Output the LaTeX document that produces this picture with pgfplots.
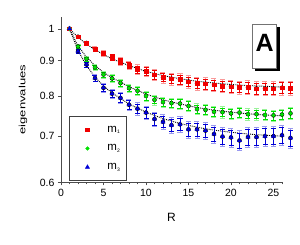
\documentclass[border=0pt]{standalone}
\usepackage{pgfplots}
\usepackage{pgfplotstable}
\pgfplotsset{compat=1.18}
\usepackage{fontspec}
\setmainfont{Liberation Sans}
\definecolor{cRed}{RGB}{240,0,0}
\definecolor{cGreen}{RGB}{0,225,0}
\definecolor{cBlue}{RGB}{0,0,215}

\pgfplotstableread{
R v e e2
1 1.000 0.000 0.000
2 0.974 0.004 0.005
3 0.954 0.005 0.007
4 0.935 0.006 0.008
5 0.922 0.007 0.009
6 0.910 0.008 0.010
7 0.898 0.009 0.011
8 0.886 0.010 0.013
9 0.874 0.010 0.014
10 0.868 0.011 0.015
11 0.858 0.012 0.016
12 0.851 0.012 0.016
13 0.847 0.013 0.017
14 0.845 0.013 0.017
15 0.839 0.013 0.017
16 0.834 0.014 0.018
17 0.833 0.014 0.018
18 0.830 0.014 0.018
19 0.827 0.014 0.018
20 0.825 0.014 0.018
21 0.823 0.014 0.018
22 0.823 0.015 0.019
23 0.820 0.015 0.019
24 0.820 0.015 0.019
25 0.820 0.015 0.019
26 0.822 0.015 0.019
27 0.821 0.015 0.019
}\redtab

\pgfplotstableread{
R v e e2
1 1.000 0.000 0.000
2 0.943 0.005 0.006
3 0.905 0.006 0.008
4 0.880 0.007 0.009
5 0.859 0.008 0.010
6 0.848 0.008 0.011
7 0.835 0.009 0.012
8 0.821 0.009 0.012
9 0.814 0.010 0.013
10 0.800 0.010 0.013
11 0.790 0.010 0.013
12 0.784 0.010 0.013
13 0.781 0.011 0.014
14 0.780 0.011 0.014
15 0.774 0.011 0.014
16 0.766 0.011 0.014
17 0.764 0.011 0.014
18 0.759 0.011 0.014
19 0.758 0.011 0.014
20 0.755 0.011 0.014
21 0.757 0.011 0.014
22 0.753 0.011 0.014
23 0.753 0.011 0.014
24 0.751 0.011 0.014
25 0.750 0.011 0.014
26 0.752 0.011 0.014
27 0.755 0.012 0.015
}\greentab

\pgfplotstableread{
R v e e2
1 1.000 0.000 0.000
2 0.928 0.005 0.007
3 0.888 0.007 0.009
4 0.849 0.008 0.010
5 0.822 0.009 0.012
6 0.806 0.010 0.013
7 0.795 0.011 0.014
8 0.777 0.012 0.015
9 0.767 0.012 0.016
10 0.757 0.013 0.017
11 0.741 0.014 0.018
12 0.734 0.014 0.018
13 0.726 0.015 0.019
14 0.728 0.015 0.019
15 0.716 0.016 0.020
16 0.716 0.016 0.020
17 0.713 0.016 0.021
18 0.705 0.017 0.022
19 0.699 0.017 0.022
20 0.697 0.017 0.022
21 0.690 0.018 0.023
22 0.698 0.018 0.023
23 0.698 0.018 0.023
24 0.700 0.018 0.023
25 0.700 0.018 0.023
26 0.702 0.018 0.023
27 0.696 0.018 0.023
}\bluetab

\begin{document}
\begin{tikzpicture}[x=1pt,y=1pt]
\path[use as bounding box] (0,0) rectangle (300,245);
\begin{axis}[
  at={(61pt,62.5pt)}, anchor=south west,
  scale only axis, width=221pt, height=165.5pt,
  xmin=0, xmax=26, ymin=0.6, ymax=1.04, ymode=log,
  axis lines=left, axis line style={-, black!70, line width=0.6pt},
  clip=false,
  xtick={0,5,...,25}, minor xtick={0,...,26},
  ytick={0.6,0.7,0.8,0.9,1}, yticklabels={0.6,0.7,0.8,0.9,1},
  minor ytick={},
  tick align=outside, major tick length=3pt, minor tick length=2pt,
  tick style={black!70, line width=0.5pt},
  ticklabel style={font=\fontsize{10.5}{12}\selectfont},
  /pgf/number format/assume math mode=true,
  xlabel={R}, ylabel={eigenvalues},
  xlabel style={at={(axis description cs:0.5,-0.2115)}, anchor=center, font=\fontsize{12}{12}\selectfont},
  ylabel style={at={(axis description cs:-0.172,0.5)}, anchor=center, font=\fontsize{9}{10}\selectfont, xscale=1.45},
  legend style={at={(rel axis cs:0.036,0.009)}, anchor=south west,
    draw=black!75, line width=1pt, inner xsep=4pt, inner ysep=7.5pt,
    row sep=7pt, font=\fontsize{11.5}{12}\selectfont},
  legend cell align=left,
  legend image code/.code={%
    \path[draw=none, fill=none] (0pt,-3pt) rectangle (32pt,3pt);
    \draw[#1, only marks, line width=0.4pt] plot coordinates {(14pt,0pt)};},
]
% fit curves
\addplot[forget plot, black, densely dotted, line width=0.9pt] coordinates {
(1,1) (2,0.972) (3,0.950) (4,0.933) (5,0.918) (6,0.905) (8,0.885) (10,0.868)
(12,0.856) (14,0.847) (16,0.840) (18,0.835) (20,0.831) (22,0.828) (24,0.826) (26,0.824)};
\addplot[forget plot, black, densely dotted, line width=0.9pt] coordinates {
(1,1) (2,0.945) (3,0.910) (4,0.885) (5,0.865) (6,0.850) (8,0.825) (10,0.805)
(12,0.790) (14,0.779) (16,0.770) (18,0.763) (20,0.758) (22,0.754) (24,0.751) (26,0.749)};
\addplot[forget plot, black, densely dotted, line width=0.9pt] coordinates {
(1,1) (2,0.930) (3,0.885) (4,0.852) (5,0.827) (6,0.808) (8,0.779) (10,0.758)
(12,0.742) (14,0.730) (16,0.721) (18,0.714) (20,0.709) (22,0.705) (24,0.702) (26,0.700)};
% light error bars
\addplot[forget plot, only marks, mark=none, error bars/.cd, y dir=both, y explicit,
  error bar style={cRed!40, line width=0.55pt}, error mark options={rotate=90, cRed!40, mark size=2.5pt}]
  table[x=R, y=v, y error=e2] {\redtab};
\addplot[forget plot, only marks, mark=none, error bars/.cd, y dir=both, y explicit,
  error bar style={cGreen!40, line width=0.55pt}, error mark options={rotate=90, cGreen!40, mark size=2.5pt}]
  table[x=R, y=v, y error=e2] {\greentab};
\addplot[forget plot, only marks, mark=none, error bars/.cd, y dir=both, y explicit,
  error bar style={cBlue!40, line width=0.55pt}, error mark options={rotate=90, cBlue!40, mark size=2.5pt}]
  table[x=R, y=v, y error=e2] {\bluetab};
% data
\addplot[only marks, mark=square*, mark size=1.8pt, cRed, error bars/.cd, y dir=both, y explicit,
  error bar style={cRed, line width=0.55pt}, error mark options={rotate=90, cRed, mark size=2.5pt}]
  table[x=R, y=v, y error=e] {\redtab};
\addlegendentry{m\textsubscript{\fontsize{5}{5}\selectfont 1}}
\addplot[only marks, mark=*, mark size=1.8pt, cGreen, error bars/.cd, y dir=both, y explicit,
  error bar style={cGreen, line width=0.55pt}, error mark options={rotate=90, cGreen, mark size=2.5pt}]
  table[x=R, y=v, y error=e] {\greentab};
\addlegendentry{m\textsubscript{\fontsize{5}{5}\selectfont 2}}
\addplot[only marks, mark=triangle*, mark size=2.4pt, cBlue, error bars/.cd, y dir=both, y explicit,
  error bar style={cBlue, line width=0.55pt}, error mark options={rotate=90, cBlue, mark size=2.5pt}]
  table[x=R, y=v, y error=e] {\bluetab};
\addlegendentry{m\textsubscript{\fontsize{5}{5}\selectfont 3}}
% panel label
\fill[black] ([xshift=3pt,yshift=-3pt]rel axis cs:0.866,0.690) rectangle ([xshift=3pt,yshift=-3pt]rel axis cs:0.976,0.958);
\draw[black!55, fill=white, line width=0.8pt] (rel axis cs:0.866,0.690) rectangle (rel axis cs:0.976,0.958);
\node[font=\bfseries\fontsize{25}{25}\selectfont] at (rel axis cs:0.921,0.846) {A};
\end{axis}
\end{tikzpicture}
\end{document}
